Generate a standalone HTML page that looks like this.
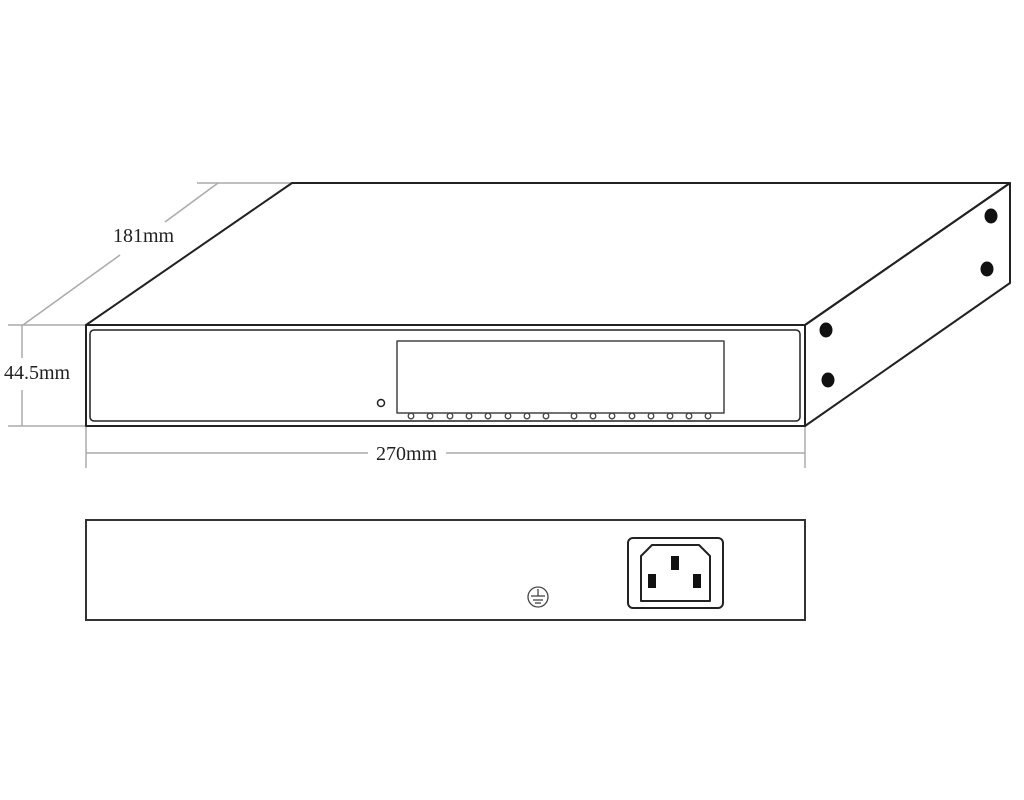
<!DOCTYPE html>
<html><head><meta charset="utf-8"><style>html,body{margin:0;padding:0;background:#fff}svg{display:block}</style></head>
<body>
<svg width="1024" height="800" viewBox="0 0 1024 800" xmlns="http://www.w3.org/2000/svg">
<g stroke="#aaa" stroke-width="1.5" fill="none">
<line x1="197" y1="183" x2="292" y2="183"/>
<line x1="23" y1="325" x2="120" y2="255"/>
<line x1="165" y1="222" x2="218" y2="183"/>
<line x1="8" y1="325" x2="86" y2="325"/>
<line x1="8" y1="426" x2="86" y2="426"/>
<line x1="22" y1="325" x2="22" y2="358"/>
<line x1="22" y1="390" x2="22" y2="426"/>
<line x1="86" y1="426" x2="86" y2="468"/>
<line x1="805" y1="426" x2="805" y2="468"/>
<line x1="86" y1="453" x2="368" y2="453"/>
<line x1="446" y1="453" x2="805" y2="453"/>
</g>
<g font-family="Liberation Serif, serif" font-size="20" fill="#222">
<text x="113" y="242">181mm</text>
<text x="4" y="379">44.5mm</text>
<text x="376" y="460">270mm</text>
</g>
<g stroke="#222" stroke-width="2" fill="none" stroke-linejoin="round">
<polygon points="86,325 292,183 1010,183 805,325"/>
<polygon points="805,325 1010,183 1010,283 805,426"/>
<rect x="86" y="325" width="719" height="101"/>
<rect x="90" y="330" width="710" height="91" rx="4" stroke-width="1.5"/>
<rect x="397" y="341" width="327" height="72" stroke-width="1.5" stroke="#444"/>
<circle cx="381" cy="403" r="3.5" stroke-width="1.5"/>
</g>
<g stroke="#444" stroke-width="1.3" fill="#fff">
<circle cx="411" cy="416" r="2.8"/><circle cx="430" cy="416" r="2.8"/><circle cx="450" cy="416" r="2.8"/><circle cx="469" cy="416" r="2.8"/>
<circle cx="488" cy="416" r="2.8"/><circle cx="508" cy="416" r="2.8"/><circle cx="527" cy="416" r="2.8"/><circle cx="546" cy="416" r="2.8"/>
<circle cx="574" cy="416" r="2.8"/><circle cx="593" cy="416" r="2.8"/><circle cx="612" cy="416" r="2.8"/><circle cx="632" cy="416" r="2.8"/>
<circle cx="651" cy="416" r="2.8"/><circle cx="670" cy="416" r="2.8"/><circle cx="689" cy="416" r="2.8"/><circle cx="708" cy="416" r="2.8"/>
</g>
<g fill="#111">
<ellipse cx="826" cy="330" rx="6.5" ry="7.5"/>
<ellipse cx="828" cy="380" rx="6.5" ry="7.5"/>
<ellipse cx="991" cy="216" rx="6.5" ry="7.5"/>
<ellipse cx="987" cy="269" rx="6.5" ry="7.5"/>
</g>
<rect x="86" y="520" width="719" height="100" stroke="#333" stroke-width="2" fill="none"/>
<rect x="628" y="538" width="95" height="70" rx="5" stroke="#222" stroke-width="2" fill="none"/>
<polygon points="641,601 641,556 652,545 699,545 710,556 710,601" stroke="#222" stroke-width="2" fill="none" stroke-linejoin="round"/>
<g fill="#111">
<rect x="671" y="556" width="8" height="14"/>
<rect x="648" y="574" width="8" height="14"/>
<rect x="693" y="574" width="8" height="14"/>
</g>
<g stroke="#444" stroke-width="1.3" fill="none">
<circle cx="538" cy="597" r="10"/>
<line x1="538" y1="589" x2="538" y2="596"/>
<line x1="531" y1="596" x2="545" y2="596"/>
<line x1="533" y1="600" x2="543" y2="600"/>
<line x1="535" y1="603" x2="541" y2="603"/>
</g>
</svg>
</body></html>
